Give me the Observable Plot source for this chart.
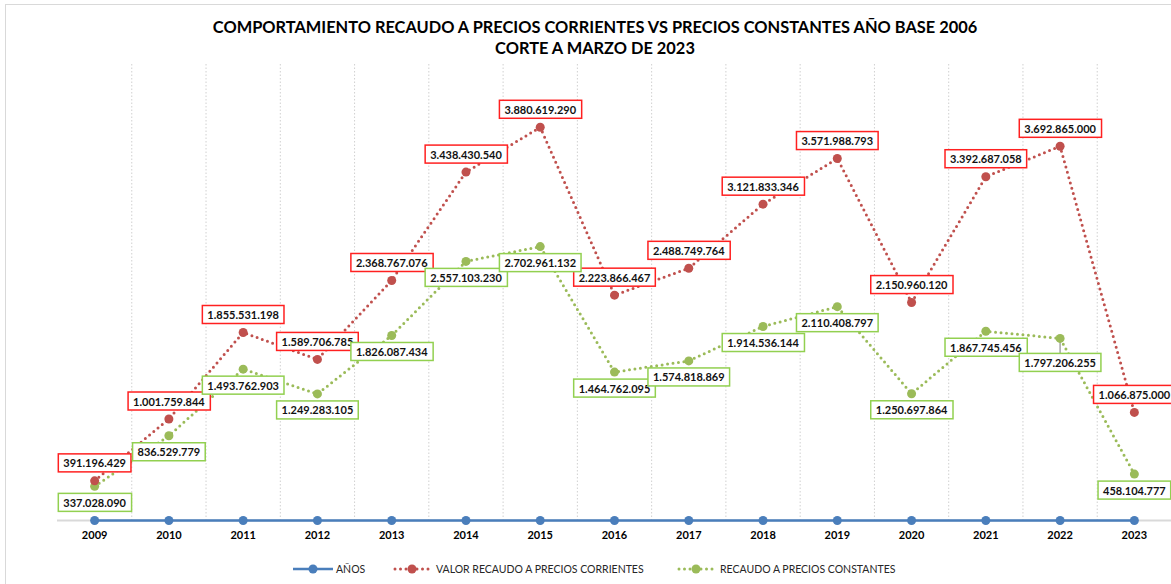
<!DOCTYPE html>
<html>
<head>
<meta charset="utf-8">
<script src="https://cdn.jsdelivr.net/npm/d3@7"></script>
<script src="https://cdn.jsdelivr.net/npm/@observablehq/plot@0.6"></script>
<style>
  body { margin: 0; background: #fff; font-family: Lato, "Open Sans", sans-serif; }
  #wrap { position: relative; width: 1171px; height: 584px; overflow: hidden; }
  #frame { position: absolute; left: 5px; top: 4px; width: 1300px; height: 700px; border-left: 1px solid #d9d9d9; border-top: 1px solid #d9d9d9; }
  #title { position: absolute; left: 0; top: 16px; width: 1190px; text-align: center; font-weight: bold; font-size: 16.4px; line-height: 21px; color: #000; }
  #chart { position: absolute; left: 0; top: 60px; }
  .leg { position: absolute; top: 561px; height: 16px; display: flex; align-items: center; font-size: 10.5px; color: #262626; white-space: nowrap; }
  .leg svg { margin-right: 3px; }
</style>
</head>
<body>
<div id="wrap">
  <div id="frame"></div>
  <div id="title">COMPORTAMIENTO RECAUDO A PRECIOS CORRIENTES VS PRECIOS CONSTANTES AÑO BASE 2006<br>CORTE A MARZO DE 2023</div>
  <div id="chart"></div>
  <div class="leg" style="left:293px"><svg width="40" height="12"><line x1="0" y1="6" x2="40" y2="6" stroke="#4a7ebb" stroke-width="2.5"/><circle cx="20" cy="6" r="4.5" fill="#4a7ebb"/></svg>AÑOS</div>
  <div class="leg" style="left:393px"><svg width="40" height="12"><line x1="2" y1="6" x2="38" y2="6" stroke="#c0504d" stroke-width="3" stroke-dasharray="0,5.5" stroke-linecap="round"/><circle cx="19" cy="6" r="4.5" fill="#c0504d"/></svg>VALOR RECAUDO A PRECIOS CORRIENTES</div>
  <div class="leg" style="left:677px"><svg width="40" height="12"><line x1="2" y1="6" x2="38" y2="6" stroke="#9bbb59" stroke-width="3" stroke-dasharray="0,5.5" stroke-linecap="round"/><circle cx="19" cy="6" r="4.5" fill="#9bbb59"/></svg>RECAUDO A PRECIOS CONSTANTES</div>
</div>
<script>
const years = [2009, 2010, 2011, 2012, 2013, 2014, 2015, 2016, 2017, 2018, 2019, 2020, 2021, 2022, 2023];
const anos = [2009, 2010, 2011, 2012, 2013, 2014, 2015, 2016, 2017, 2018, 2019, 2020, 2021, 2022, 2023];
const corrientes = [391196429, 1001759844, 1855531198, 1589706785, 2368767076, 3438430540, 3880619290, 2223866467, 2488749764, 3121833346, 3571988793, 2150960120, 3392687058, 3692865000, 1066875000];
const constantes = [337028090, 836529779, 1493762903, 1249283105, 1826087434, 2557103230, 2702961132, 1464762095, 1574818869, 1914536144, 2110408797, 1250697864, 1867745456, 1797206255, 458104777];

const rows = years.map((year, i) => ({year, anos: anos[i], corr: corrientes[i], cons: constantes[i]}));
const fmt = v => String(v).replace(/\B(?=(\d{3})+(?!\d))/g, ".");
const gridX = years.slice(0, -1).map(y => y + 0.5);
const shifted = rows.filter(d => d.year === 2022);
const normal = rows.filter(d => d.year !== 2022);

const RED = "#c0504d", GREEN = "#9bbb59", BLUE = "#4a7ebb";

const chart = Plot.plot({
  width: 1171,
  height: 494,
  marginLeft: 57,
  marginRight: 0,
  marginTop: 4,
  marginBottom: 34,
  style: {fontFamily: "Lato, 'Open Sans', sans-serif", fontSize: "11px", color: "#000", background: "transparent", overflow: "visible"},
  x: {type: "linear", domain: [2008.5, 2023.5], ticks: years, tickFormat: d => String(d), tickSize: 0, tickPadding: 11, label: null},
  y: {domain: [0, 4500000000], axis: null},
  marks: [
    Plot.ruleX(gridX, {stroke: "#d0d0d0", strokeDasharray: "1.5,2"}),
    Plot.ruleY([0], {stroke: "#d9d9d9", strokeWidth: 2}),
    Plot.line(rows, {x: "year", y: "anos", stroke: BLUE, strokeWidth: 2.5}),
    Plot.dot(rows, {x: "year", y: "anos", r: 4.5, fill: BLUE}),
    Plot.line(rows, {x: "year", y: "cons", stroke: GREEN, strokeWidth: 3, strokeDasharray: "0,5.5", strokeLinecap: "round"}),
    Plot.line(rows, {x: "year", y: "corr", stroke: RED, strokeWidth: 3, strokeDasharray: "0,5.5", strokeLinecap: "round"}),
    Plot.ruleX(shifted, {x: "year", y1: "cons", y2: "cons", insetTop: 4, insetBottom: -15, stroke: "#a6a6a6", strokeWidth: 1.5}),
    Plot.dot(rows, {x: "year", y: "cons", r: 4.5, fill: GREEN}),
    Plot.dot(rows, {x: "year", y: "corr", r: 4.5, fill: RED}),
    Plot.text(rows, {x: "year", y: "corr", text: d => fmt(d.corr), dy: -17, fontWeight: "bold", fill: "#111"}),
    Plot.text(normal, {x: "year", y: "cons", text: d => fmt(d.cons), dy: 17, fontWeight: "bold", fill: "#111"}),
    Plot.text(shifted, {x: "year", y: "cons", text: d => fmt(d.cons), dy: 25, fontWeight: "bold", fill: "#111"})
  ]
});
chart.querySelectorAll('[aria-label="x-axis tick label"] text, [aria-label="x-axis"] text').forEach(t => { t.setAttribute("font-weight", "bold"); });
document.getElementById("chart").append(chart);

function boxes(group, stroke) {
  group.querySelectorAll("text").forEach(t => {
    const bb = t.getBBox();
    const r = document.createElementNS("http://www.w3.org/2000/svg", "rect");
    r.setAttribute("x", bb.x - 5);
    r.setAttribute("y", bb.y - 2.5);
    r.setAttribute("width", bb.width + 10);
    r.setAttribute("height", bb.height + 5);
    r.setAttribute("fill", "#fff");
    r.setAttribute("stroke", stroke);
    r.setAttribute("stroke-width", 1.5);
    const tr = t.getAttribute("transform");
    if (tr) r.setAttribute("transform", tr);
    t.parentNode.insertBefore(r, t);
  });
}
const textGroups = chart.querySelectorAll('g[aria-label="text"]');
boxes(textGroups[0], "#ff2020");
boxes(textGroups[1], "#92d050");
boxes(textGroups[2], "#92d050");
</script>
</body>
</html>
